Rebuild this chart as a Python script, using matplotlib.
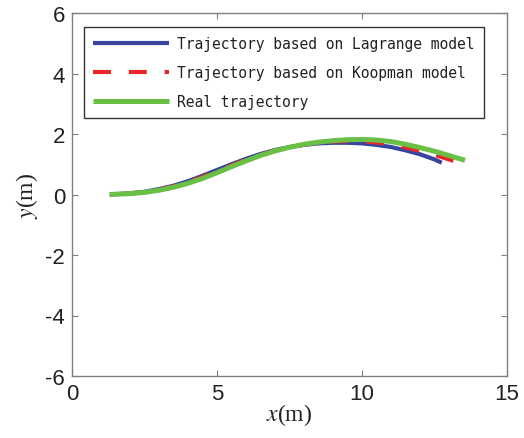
import matplotlib
matplotlib.use("Agg")
import matplotlib.pyplot as plt

# Data
x_lag = [1.3, 2.0, 2.5, 3.0, 3.5, 4.0, 4.5, 5.0, 5.5, 6.0, 6.5, 7.0, 7.5, 8.0,
         8.5, 9.0, 9.5, 10.0, 10.5, 11.0, 11.5, 12.0, 12.5, 12.75]
y_lag = [0.00, 0.04, 0.09, 0.18, 0.29, 0.44, 0.62, 0.81, 1.00, 1.18, 1.34, 1.47, 1.57, 1.64,
         1.69, 1.71, 1.71, 1.69, 1.64, 1.57, 1.46, 1.33, 1.16, 1.05]

x_koop = [1.3, 2.0, 2.5, 3.0, 3.5, 4.0, 4.5, 5.0, 5.5, 6.0, 6.5, 7.0, 7.5, 8.0,
          8.5, 9.0, 9.5, 10.0, 10.5, 11.0, 11.5, 12.0, 12.5, 13.0, 13.15]
y_koop = [0.00, 0.03, 0.08, 0.16, 0.27, 0.41, 0.58, 0.77, 0.96, 1.15, 1.31, 1.45, 1.56, 1.65,
          1.71, 1.75, 1.77, 1.76, 1.72, 1.66, 1.56, 1.44, 1.31, 1.16, 1.11]

x_real = [1.3, 2.0, 2.5, 3.0, 3.5, 4.0, 4.5, 5.0, 5.5, 6.0, 6.5, 7.0, 7.5, 8.0,
          8.5, 9.0, 9.5, 10.0, 10.5, 11.0, 11.5, 12.0, 12.5, 13.0, 13.55]
y_real = [0.00, 0.03, 0.07, 0.14, 0.24, 0.37, 0.53, 0.72, 0.92, 1.11, 1.29, 1.44, 1.56, 1.66,
          1.73, 1.78, 1.81, 1.82, 1.80, 1.75, 1.66, 1.55, 1.43, 1.29, 1.13]

labels = ["Trajectory based on Lagrange model",
          "Trajectory based on Koopman model",
          "Real trajectory"]
xticks = [0, 5, 10, 15]
yticks = [-6, -4, -2, 0, 2, 4, 6]

plt.rcParams['mathtext.fontset'] = 'stix'
plt.rcParams['axes.unicode_minus'] = False

fig = plt.figure(figsize=(5.24, 4.39), dpi=100)
ax = fig.add_axes([72/524, 1-377/439, 435/524, 363/439])

ax.plot(x_lag, y_lag, color='#3845a0', lw=3.0, label=labels[0], solid_capstyle='butt')
# drawn from its end so the dash pattern ends on a dash, as in the reference
ax.plot(x_koop[::-1], y_koop[::-1], color='#e8262a', lw=3.0, ls=(0, (4.3, 4.3)),
        label=labels[1], dash_capstyle='butt')
ax.plot(x_real, y_real, color='#6abf45', lw=3.6, label=labels[2], solid_capstyle='butt')

ax.set_xlim(0, 15)
ax.set_ylim(-6, 6)
ax.set_xticks(xticks)
ax.set_yticks(yticks)

frame_col = '#808080'
for s in ax.spines.values():
    s.set_color(frame_col)
    s.set_linewidth(1.0)
ax.tick_params(direction='in', length=4, width=0.8, color=frame_col,
               top=True, right=True, labelsize=16, labelcolor='#222222', pad=5)
for lab in ax.get_xticklabels() + ax.get_yticklabels():
    lab.set_fontfamily('Liberation Sans')

ax.set_xlabel(r'$x$(m)', fontsize=17, fontfamily='Liberation Serif', color='#222222', labelpad=-2)
ax.set_ylabel(r'$y$(m)', fontsize=17, fontfamily='Liberation Serif', color='#222222', labelpad=4)

leg = ax.legend(loc='upper left', bbox_to_anchor=((84-72)/435, (377-28)/363),
                borderaxespad=0, fancybox=False, framealpha=1, edgecolor='#333333',
                prop={'family': 'DejaVu Sans Mono', 'size': 10.5},
                handlelength=5.2, handletextpad=0.6, labelspacing=0.98,
                borderpad=0.6)
leg.get_frame().set_linewidth(1.0)
for t in leg.get_texts():
    t.set_color('#222222')

fig.savefig('out.png', dpi=100)
